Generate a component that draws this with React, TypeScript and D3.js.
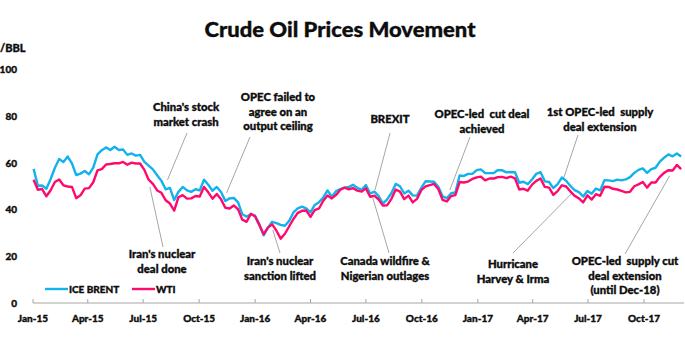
import React from "react";
import * as d3 from "d3";

const W = 685;
const H = 360;

// weekly closes, first week of each year given in yearStarts
const yearStarts = ["2015-01-02", "2016-01-01", "2017-01-06"];

const brent2015 = [
  57.3, 50.1, 50.2, 48.8, 53.0, 57.8, 61.5, 60.2, 62.6, 59.7, 54.7, 55.3, 56.4,
  55.0, 57.9, 63.5, 65.3, 66.5, 65.4, 66.8, 65.4, 65.6, 63.3, 63.9, 63.0, 63.3,
  60.3, 58.7, 57.1, 54.6, 52.2, 48.6, 49.2, 44.0, 47.5, 49.6, 48.1, 47.5, 48.6,
  48.1, 52.7, 50.5, 48.0, 49.6, 47.4, 43.6, 44.7, 44.9, 43.0, 37.9, 36.9, 37.9,
];
const wti2015 = [
  52.7, 48.4, 48.7, 45.6, 48.2, 51.7, 52.8, 50.3, 49.8, 49.6, 44.8, 46.0, 48.9,
  49.1, 51.6, 56.7, 57.2, 59.2, 59.4, 59.7, 59.7, 60.3, 59.1, 60.0, 59.6, 59.6,
  56.9, 52.7, 50.9, 48.1, 47.1, 43.9, 42.5, 39.5, 45.2, 46.1, 44.6, 44.7, 45.7,
  45.5, 49.6, 47.3, 44.6, 46.6, 44.3, 40.7, 40.4, 41.7, 40.0, 35.6, 34.7, 38.1,
];
const brent2016 = [
  37.3, 33.6, 28.9, 32.2, 34.7, 34.1, 33.4, 33.0, 35.1, 38.7, 40.4, 41.2, 40.4,
  38.7, 41.9, 43.1, 45.1, 48.1, 45.4, 47.8, 48.7, 49.3, 49.6, 50.5, 49.2, 48.4,
  50.4, 46.8, 47.6, 45.7, 42.5, 44.3, 47.0, 50.9, 49.9, 46.8, 48.0, 46.0, 45.9,
  49.2, 52.0, 51.9, 51.8, 49.7, 45.6, 44.8, 46.9, 47.2, 54.5, 54.3, 55.2, 55.2,
  56.8,
];
const wti2016 = [
  37.0, 33.2, 29.4, 32.2, 33.6, 30.9, 27.5, 29.6, 32.8, 35.9, 38.5, 39.4, 39.5,
  36.8, 39.7, 40.4, 43.7, 45.9, 44.7, 46.2, 48.4, 49.3, 48.6, 49.1, 48.0, 47.6,
  49.0, 45.4, 45.9, 44.2, 41.6, 41.8, 44.5, 48.5, 47.6, 44.4, 45.9, 43.0, 44.5,
  48.2, 49.8, 50.4, 50.9, 48.7, 44.1, 43.4, 45.7, 46.1, 51.7, 51.5, 51.9, 53.0,
  53.7,
];
const brent2017 = [
  57.1, 55.5, 55.5, 55.5, 56.8, 56.7, 55.8, 56.0, 55.9, 51.4, 51.8, 50.8, 52.8,
  55.2, 55.9, 52.0, 51.7, 49.1, 50.8, 53.6, 52.2, 50.0, 48.2, 47.4, 45.5, 47.9,
  46.7, 48.9, 48.1, 52.5, 52.4, 52.1, 52.7, 52.4, 52.8, 53.8, 55.6, 56.9, 57.5,
  55.6, 57.2, 57.8, 60.4, 62.1, 63.5, 62.7, 63.9, 62.6,
];
const wti2017 = [
  54.0, 52.4, 53.2, 53.2, 53.8, 53.9, 53.4, 54.0, 53.3, 48.5, 48.8, 48.0, 50.6,
  52.2, 53.2, 49.6, 49.3, 46.2, 47.8, 50.3, 49.8, 47.7, 45.8, 44.7, 43.0, 46.0,
  44.2, 46.5, 45.8, 49.7, 49.6, 48.8, 48.5, 47.9, 47.3, 47.5, 49.9, 50.7, 51.7,
  49.3, 51.5, 51.5, 53.9, 55.6, 56.7, 56.6, 59.0, 57.2,
];

const brentYears = [brent2015, brent2016, brent2017];
const wtiYears = [wti2015, wti2016, wti2017];

const yTicks = [0, 20, 40, 60, 80, 100];
const xTickDates = [
  "2015-01-01", "2015-04-01", "2015-07-01", "2015-10-01",
  "2016-01-01", "2016-04-01", "2016-07-01", "2016-10-01",
  "2017-01-01", "2017-04-01", "2017-07-01", "2017-10-01",
];
const xTickLabels = [
  "Jan-15", "Apr-15", "Jul-15", "Oct-15", "Jan-16", "Apr-16",
  "Jul-16", "Oct-16", "Jan-17", "Apr-17", "Jul-17", "Oct-17",
];

const seriesNames = ["ICE BRENT", "WTI"];
const seriesColors = ["#12b2ee", "#ff0a6c"];

// events: anchored on the curve (date, value), label placed in pixels
const events = [
  { lines: ["China's stock", "market crash"], date: "2015-08-10", value: 52.6, tx: 186, ty: 111, ex: 187, ey: 133 },
  { lines: ["OPEC failed to", "agree on an", "output ceiling"], date: "2015-11-15", value: 47.0, tx: 278, ty: 101, ex: 250, ey: 137 },
  { lines: ["BREXIT"], date: "2016-07-16", value: 48.3, tx: 390, ty: 123, ex: 390, ey: 133 },
  { lines: ["OPEC-led  cut deal", "achieved"], date: "2016-11-16", value: 48.3, tx: 482, ty: 118, ex: 470, ey: 137 },
  { lines: ["1st OPEC-led  supply", "deal extension"], date: "2017-05-21", value: 52.6, tx: 600, ty: 116, ex: 578, ey: 135 },
  { lines: ["Iran's nuclear", "deal done"], date: "2015-07-12", value: 49.6, tx: 162, ty: 258, ex: 163, ey: 247 },
  { lines: ["Iran's nuclear", "sanction lifted"], date: "2016-01-30", value: 31.2, tx: 280, ty: 265, ex: 280, ey: 253 },
  { lines: ["Canada wildfire &", "Nigerian outlages"], date: "2016-07-12", value: 45.3, tx: 385, ty: 265, ex: 389, ey: 253 },
  { lines: ["Hurricane", "Harvey & Irma"], date: "2017-06-05", value: 47.0, tx: 513, ty: 268, ex: 513, ey: 253 },
  { lines: ["OPEC-led  supply cut", "deal extension", "(until Dec-18)"], date: "2017-11-12", value: 54.3, tx: 625, ty: 265, ex: 625, ey: 254 },
];

const parse = d3.timeParse("%Y-%m-%d");
const FONT = "Lato, 'DejaVu Sans', sans-serif";
const INK = "#0d0d0d";

export default function App() {
  const x = d3
    .scaleTime()
    .domain([parse("2015-01-01")!, parse("2018-01-01")!])
    .range([33, 700]);
  const y = d3.scaleLinear().domain([0, 100]).range([303, 69]);

  const toPoints = (years: number[][]) =>
    years.flatMap((vals, yi) => {
      const start = parse(yearStarts[yi])!;
      return vals.map((v, i) => ({ date: d3.timeDay.offset(start, 7 * i), v }));
    });

  const series = [toPoints(brentYears), toPoints(wtiYears)];

  const line = d3
    .line<{ date: Date; v: number }>()
    .x((d) => x(d.date))
    .y((d) => y(d.v));

  // thin outline thickens the glyphs a bit, the original font is very heavy
  const heavy = { stroke: INK, strokeWidth: 0.35, paintOrder: "stroke" } as const;

  return (
    <svg
      width={W}
      height={H}
      style={{ position: "absolute", left: 0, top: 0, background: "#fff" }}
      fontFamily={FONT}
      fontWeight={900}
    >
      <text x={340} y={37} textAnchor="middle" fontSize={21} fill={INK} textLength={271} lengthAdjust="spacingAndGlyphs" {...heavy}>
        Crude Oil Prices Movement
      </text>
      <text x={0} y={52} fontSize={11} fill={INK} {...heavy}>
        /BBL
      </text>

      {yTicks.map((t) => (
        <text key={t} x={17} y={y(t) + 4} textAnchor="end" fontSize={10} fill={INK} {...heavy}>
          {t}
        </text>
      ))}

      <line x1={x(parse("2015-01-01")!)} x2={684} y1={303} y2={303} stroke="#a6a6a6" strokeWidth={1} />
      {xTickDates.map((d, i) => {
        const px = x(parse(d)!);
        return (
          <g key={d}>
            <line x1={px} x2={px} y1={303} y2={299} stroke="#a6a6a6" />
            <text x={px} y={322} textAnchor="middle" fontSize={10} fill={INK} {...heavy}>
              {xTickLabels[i]}
            </text>
          </g>
        );
      })}

      {events.map((e, i) => (
        <line
          key={"l" + i}
          x1={x(parse(e.date)!)}
          y1={y(e.value)}
          x2={e.ex}
          y2={e.ey}
          stroke="#a6a6a6"
          strokeWidth={1}
        />
      ))}

      {series.map((s, i) => (
        <path key={i} d={line(s) ?? ""} fill="none" stroke={seriesColors[i]} strokeWidth={2.4} strokeLinejoin="round" />
      ))}

      {events.map((e, i) => (
        <text key={"t" + i} textAnchor="middle" fontSize={11.3} fill={INK} {...heavy}>
          {e.lines.map((l, j) => (
            <tspan key={j} x={e.tx} y={e.ty + j * 14.5} style={{ whiteSpace: "pre" }}>
              {l}
            </tspan>
          ))}
        </text>
      ))}

      {seriesNames.map((n, i) => (
        <g key={n} transform={`translate(${45 + i * 87},289)`}>
          <line x1={0} x2={23} y1={0} y2={0} stroke={seriesColors[i]} strokeWidth={2.4} />
          <text x={24} y={3.5} fontSize={10} fill={INK} {...heavy}>
            {n}
          </text>
        </g>
      ))}
    </svg>
  );
}
